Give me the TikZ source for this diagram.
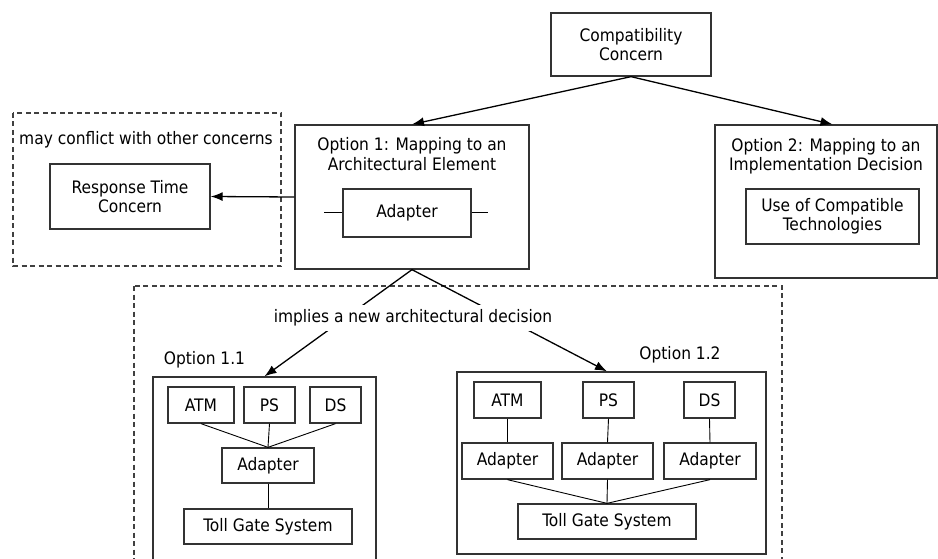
\documentclass[tikz,border=0pt]{standalone}
\usepackage{fontspec}
\setmainfont{DejaVu Sans Condensed}
\usetikzlibrary{arrows.meta}
\begin{document}
\begin{tikzpicture}[x=1pt,y=-1pt,
  every node/.style={font=\fontsize{17.2}{19.5}\selectfont},
  box/.style={draw=black!80, line width=1.3pt, rectangle, inner sep=2pt, align=center},
  txt/.style={inner sep=1pt, align=center},
  group/.style={draw=black!75, line width=1.2pt, dash pattern=on 5pt off 3.5pt},
  link/.style={draw=black, line width=0.9pt},
  arr/.style={draw=black, line width=1.3pt, -{Latex[length=12pt,width=9pt]}}
]
\clip (0,0) rectangle (938,559);
\fill[white] (0,0) rectangle (938,559);

% dashed groupings
\draw[group] (13,113) rectangle (281,266);
\draw[group] (134,286) rectangle (782,580);

% top level
\node[box, minimum width=160pt, minimum height=63pt] (compat) at (631,44.5) {Compatibility\\Concern};

\node[box, minimum width=234pt, minimum height=144pt] (opt1) at (412,197) {};
\node[txt] (opt1t) at (412,154) {Option 1: Mapping to an\\Architectural Element};
\node[box, minimum width=128pt, minimum height=48pt] (ad) at (407,213) {Adapter};
\draw[link, line width=1pt] (ad.west) -- ++(-18,0);
\draw[link, line width=1pt] (ad.east) -- ++(16,0);

\node[box, minimum width=222pt, minimum height=153pt] (opt2) at (826,201.5) {};
\node[txt] (opt2t) at (826,156.5) {Option 2: Mapping to an\\Implementation Decision};
\node[box, minimum width=173pt, minimum height=55pt] (use) at (832.5,216.5) {Use of Compatible\\Technologies};

\node[txt] (conf) at (146,140) {may conflict with other concerns};
\node[box, minimum width=160pt, minimum height=65pt] (resp) at (130,196.5) {Response Time\\Concern};

\draw[arr] (compat.south) -- (opt1.north);
\draw[arr] (compat.south) -- (opt2.north -| use.north);
\draw[arr] (opt1.west) -- (resp.east);

% option 1.1
\node[box, minimum width=223pt, minimum height=198pt] (o11) at (264.5,476) {};
\node[txt] (o11t) at (204.5,360) {Option 1.1};
\node[box, minimum width=66pt, minimum height=36pt] (atmA) at (201,405) {ATM};
\node[box, minimum width=51pt, minimum height=36pt] (psA) at (269.5,405) {PS};
\node[box, minimum width=51pt, minimum height=36pt] (dsA) at (335.5,405) {DS};
\node[box, minimum width=92pt, minimum height=35pt] (adA) at (268,465.5) {Adapter};
\node[box, minimum width=168pt, minimum height=35pt] (tgA) at (268,526.5) {Toll Gate System};
\draw[link] (atmA.south) -- (adA.north);
\draw[link] (psA.south) -- (adA.north);
\draw[link] (dsA.south) -- (adA.north);
\draw[link] (adA.south) -- (tgA.north);

% option 1.2
\node[box, minimum width=309pt, minimum height=182pt] (o12) at (611.5,463) {};
\node[txt] (o12t) at (680,355) {Option 1.2};
\node[box, minimum width=67pt, minimum height=36pt] (atmB) at (507.5,400) {ATM};
\node[box, minimum width=51pt, minimum height=36pt] (psB) at (608.5,400) {PS};
\node[box, minimum width=51pt, minimum height=36pt] (dsB) at (709.5,400) {DS};
\node[box, minimum width=91pt, minimum height=36pt] (adB1) at (507.5,461) {Adapter};
\node[box, minimum width=91pt, minimum height=36pt] (adB2) at (607.5,461) {Adapter};
\node[box, minimum width=92pt, minimum height=36pt] (adB3) at (710,461) {Adapter};
\node[box, minimum width=178pt, minimum height=35pt] (tgB) at (607,521.5) {Toll Gate System};
\draw[link] (atmB.south) -- (adB1.north);
\draw[link] (psB.south) -- (adB2.north);
\draw[link] (dsB.south) -- (adB3.north);
\draw[link] (adB1.south) -- (tgB.north);
\draw[link] (adB2.south) -- (tgB.north);
\draw[link] (adB3.south) -- (tgB.north);

% decision arrows, interrupted by the label
\draw[arr] (opt1.south) -- (o11.north);
\draw[arr] (opt1.south) -- (o12.north -| tgB.north);
\node[txt, fill=white, inner xsep=3pt, inner ysep=5pt] (impl) at (413,318) {implies a new architectural decision};
\end{tikzpicture}
\end{document}
